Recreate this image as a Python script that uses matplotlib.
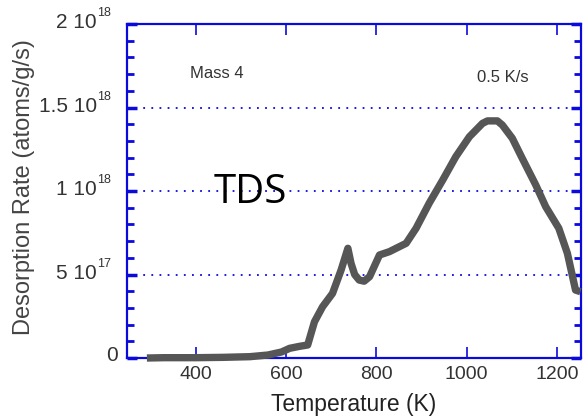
import matplotlib
matplotlib.use("Agg")
import matplotlib.pyplot as plt
from matplotlib.ticker import FixedLocator, MultipleLocator, NullFormatter
from matplotlib.transforms import ScaledTranslation

plt.rcParams['font.family'] = ['Liberation Sans', 'DejaVu Sans']

# Data (temperature in K, desorption rate in 1e17 atoms/g/s)
temperature = [292, 330, 400, 460, 520, 560, 590, 608, 630, 648, 663, 681, 703,
               722, 737, 744, 752, 762, 773, 785, 807, 829, 866, 888, 917, 947,
               976, 1006, 1035, 1046, 1057, 1068, 1079, 1101, 1123, 1153, 1175,
               1204, 1223, 1241, 1252]
rate_e17 = [0.0, 0.02, 0.02, 0.04, 0.08, 0.18, 0.36, 0.58, 0.7, 0.78, 2.17, 3.07,
            3.87, 5.27, 6.57, 5.67, 5.0, 4.67, 4.6, 4.87, 6.17, 6.37, 6.87, 7.77,
            9.27, 10.66, 12.06, 13.25, 14.05, 14.2, 14.2, 14.2, 13.95, 13.16,
            11.96, 10.36, 9.06, 7.77, 6.27, 4.07, 3.97]
rate = [v * 1e17 for v in rate_e17]

x_ticks = [400, 600, 800, 1000, 1200]
y_ticks = [0, 5e17, 1e18, 1.5e18, 2e18]
y_tick_mantissa = ["0", "5 10", "1 10", "1.5 10", "2 10"]
y_tick_exponent = ["", "17", "18", "18", "18"]
grid_levels = [5e17, 1e18, 1.5e18]

blue = '#0a0adc'
label_gray = '#333333'
fig = plt.figure(figsize=(5.88, 4.18), dpi=100)
ax = fig.add_axes([0.216, 0.1435, 0.772, 0.799])

ax.plot(temperature, rate, color='#565656', lw=5.3, solid_joinstyle='round',
        solid_capstyle='butt', clip_on=False, zorder=3)

for g in grid_levels:
    ax.axhline(g, color=blue, lw=1.3, linestyle=(0, (1, 3.5)), zorder=1)

ax.set_xlim(248, 1253)
ax.set_ylim(0, 2e18)
ax.xaxis.set_major_locator(FixedLocator(x_ticks))
ax.yaxis.set_major_locator(FixedLocator(y_ticks))
ax.yaxis.set_minor_locator(MultipleLocator(1e17))
ax.yaxis.set_major_formatter(NullFormatter())

for s in ax.spines.values():
    s.set_color(blue)
    s.set_linewidth(1.6)

ax.tick_params(axis='both', which='major', direction='in', color=blue,
               labelcolor=label_gray, labelsize=14, top=True, right=True)
ax.tick_params(axis='x', which='major', length=8, width=1.2, pad=6)
ax.tick_params(axis='y', which='major', length=7, width=2.5)
ax.tick_params(axis='y', which='minor', direction='in', color=blue,
               length=5, width=2.0, left=True, right=True)

# y tick labels in the "m 10^e" style
def off(dx_px, dy_px):
    return ax.get_yaxis_transform() + ScaledTranslation(dx_px / 100, dy_px / 100,
                                                        fig.dpi_scale_trans)

for val, man, ex in zip(y_ticks, y_tick_mantissa, y_tick_exponent):
    if ex:
        ax.text(0, val, man, transform=off(-30, -4), ha='right', va='baseline',
                fontsize=15, color=label_gray, clip_on=False)
        ax.text(0, val, ex, transform=off(-29.5, 8), ha='left', va='baseline',
                fontsize=9, color=label_gray, clip_on=False)
    else:
        ax.text(0, val, man, transform=off(-9, -3), ha='right', va='baseline',
                fontsize=15, color=label_gray, clip_on=False)

fig.text(354 / 588, 1 - 404 / 418, "Temperature (K)", fontsize=16.5,
         color='#222222', ha='center', va='center')
fig.text(24 / 588, 1 - 187 / 418, "Desorption Rate (atoms/g/s)", fontsize=17,
         color='#444444', ha='center', va='center', rotation=90)

ax.text(0.138, 0.852, "Mass 4", transform=ax.transAxes, fontsize=12,
        color=label_gray, va='center', ha='left')
ax.text(0.772, 0.840, "0.5 K/s", transform=ax.transAxes, fontsize=12,
        color=label_gray, va='center', ha='left')
ax.text(0.19, 0.495, "TDS", transform=ax.transAxes, fontsize=29,
        color='black', va='center', ha='left', family=['Open Sans', 'DejaVu Sans'])

fig.savefig("out.png", dpi=100)
